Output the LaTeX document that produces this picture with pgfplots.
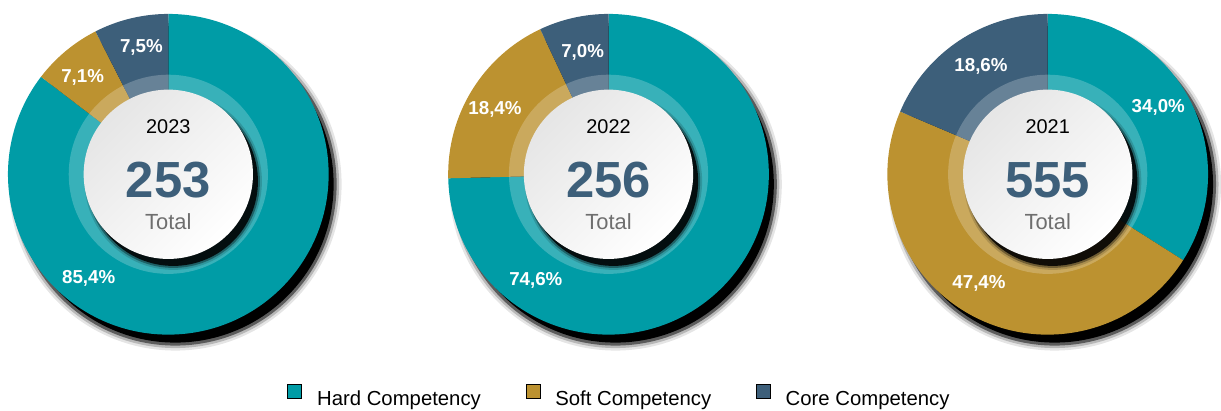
\documentclass[border=0pt]{standalone}
\usepackage{pgfplots}
\pgfplotsset{compat=1.18}
\usepackage{fontspec}
\setmainfont{Liberation Sans}

\definecolor{hard}{HTML}{009CA6}
\definecolor{soft}{HTML}{BC9230}
\definecolor{core}{HTML}{3D5F7A}
\definecolor{totalgray}{HTML}{6E6E6E}

\tikzset{lab/.style={text=white, font=\fontsize{9.4}{11}\selectfont\bfseries}}

% one donut: centre x, hard, soft, core (percent), year, total
\newcommand{\donut}[6]{%
  % drop shadow
  \fill[black,opacity=0.1] ([shift={(7,-10)}]axis cs:#1,237) circle[radius=167];
  \fill[black,opacity=0.2] ([shift={(7,-10)}]axis cs:#1,237) circle[radius=164.5];
  \fill[black,opacity=0.5] ([shift={(7,-10)}]axis cs:#1,237) circle[radius=162];
  \fill[black] ([shift={(7,-10)}]axis cs:#1,237) circle[radius=159];
  % slices, clockwise from 12 o'clock
  \fill[hard] (axis cs:#1,237) -- ++(90:161)
    arc[start angle=90, end angle={90-3.6*#2}, radius=161] -- cycle;
  \fill[soft] (axis cs:#1,237) -- ++({90-3.6*#2}:161)
    arc[start angle={90-3.6*#2}, end angle={90-3.6*(#2+#3)}, radius=161] -- cycle;
  \fill[core] (axis cs:#1,237) -- ++({90-3.6*(#2+#3)}:161)
    arc[start angle={90-3.6*(#2+#3)}, end angle=-270, radius=161] -- cycle;
  % glassy ring
  \fill[white,opacity=0.22] (axis cs:#1,237) circle[radius=100];
  % inner shadow + disc
  \fill[black,opacity=0.15] ([shift={(5,-7)}]axis cs:#1,237) circle[radius=89];
  \fill[black,opacity=0.35] ([shift={(5,-7)}]axis cs:#1,237) circle[radius=87];
  \fill[black,opacity=0.85] ([shift={(5,-7)}]axis cs:#1,237) circle[radius=85];
  \shade[top color=black!10, bottom color=white, shading angle=45]
    (axis cs:#1,237) circle[radius=85];
  \node[font=\fontsize{10}{12}\selectfont] at (axis cs:#1,285) {#5};
  \node[font=\fontsize{25.5}{28}\selectfont\bfseries, text=core] at (axis cs:#1,231) {#6};
  \node[font=\fontsize{11}{13}\selectfont, text=totalgray] at (axis cs:#1,189) {Total};
}

\begin{document}
\begin{tikzpicture}
\begin{axis}[
  width=610.5pt, height=206pt, scale only axis,
  xmin=0, xmax=1221, ymin=0, ymax=412,
  hide axis, clip=false,
  legend image code/.code={\fill[#1] (0pt,1pt) rectangle (7pt,8pt);},
  legend columns=3,
  legend style={at={(axis cs:621,1)}, anchor=south, draw=none, fill=none,
    inner sep=0pt, nodes={inner sep=0pt},
    font=\fontsize{10.2}{12}\selectfont,
    /tikz/every odd column/.append style={column sep=7.5pt},
    /tikz/every even column/.append style={column sep=22.5pt}},
]
  \addlegendimage{fill=hard}
  \addlegendentry{Hard Competency}
  \addlegendimage{fill=soft}
  \addlegendentry{Soft Competency}
  \addlegendimage{fill=core}
  \addlegendentry{Core Competency}

  % keep the full canvas as bounding box
  \path (axis cs:0,0) rectangle (axis cs:1221,412);

  \donut{169}{85.4}{7.1}{7.5}{2023}{253}
  \donut{611}{74.6}{18.4}{7.0}{2022}{256}
  \donut{1052}{34.0}{47.4}{18.6}{2021}{555}

  \node[lab] at (axis cs:142,364) {7,5\%};
  \node[lab] at (axis cs:83,334) {7,1\%};
  \node[lab] at (axis cs:89,132) {85,4\%};
  \node[lab] at (axis cs:585,359) {7,0\%};
  \node[lab] at (axis cs:497,302) {18,4\%};
  \node[lab] at (axis cs:538,130) {74,6\%};
  \node[lab] at (axis cs:985,345) {18,6\%};
  \node[lab] at (axis cs:1163,304) {34,0\%};
  \node[lab] at (axis cs:983,127) {47,4\%};
\end{axis}
\end{tikzpicture}
\end{document}
